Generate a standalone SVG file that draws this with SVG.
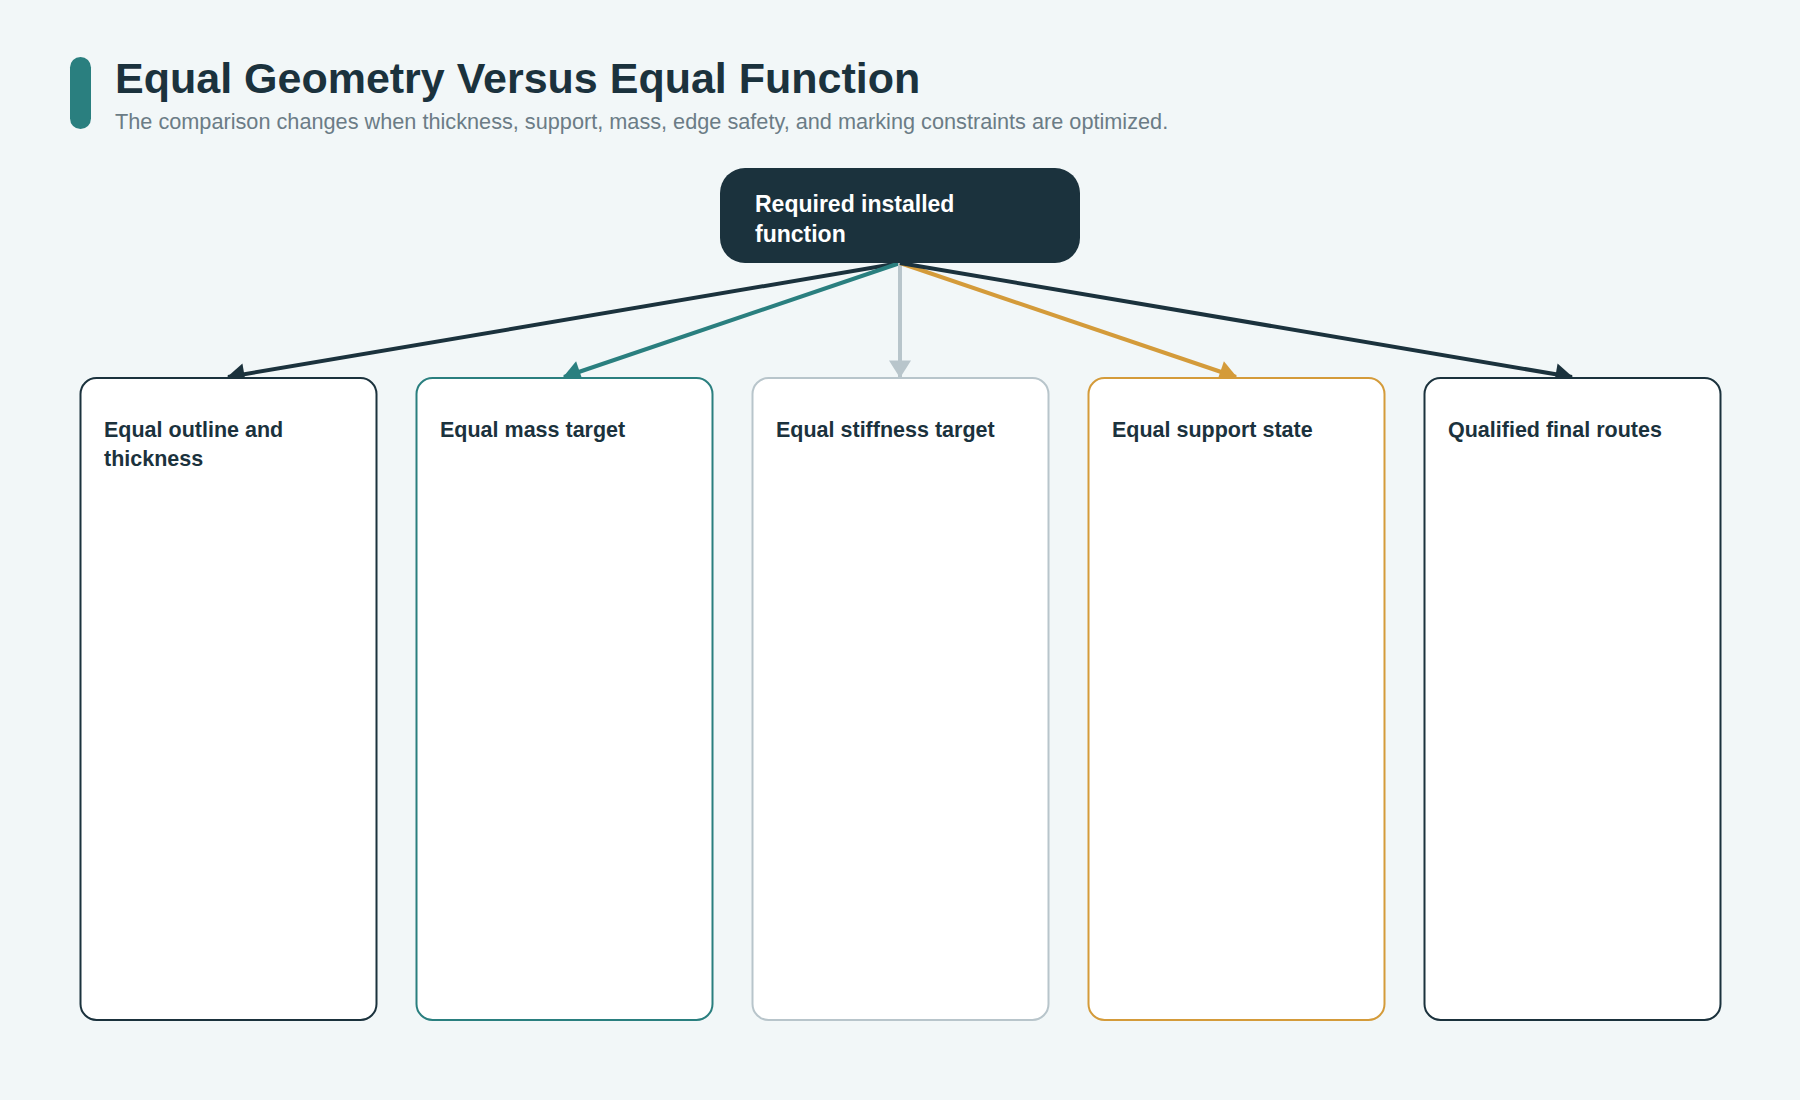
<svg xmlns="http://www.w3.org/2000/svg" width="1800" height="1100" viewBox="0 0 1800 1100">
<style>
.title{font-family:"Liberation Sans",Arial,sans-serif;font-weight:700;font-size:43px;fill:#1b323d}
.sub{font-family:"Liberation Sans",Arial,sans-serif;font-size:21.7px;fill:#6b7c86}
.ntext{font-family:"Liberation Sans",Arial,sans-serif;font-weight:700;font-size:23px;fill:#ffffff}
.ctext{font-family:"Liberation Sans",Arial,sans-serif;font-weight:700;font-size:21.5px;fill:#1b323d}
.card{fill:#ffffff;stroke-width:2}
.edge{fill:none;stroke-width:4}
</style>
<defs>
<marker id="aDark" markerUnits="userSpaceOnUse" markerWidth="22" markerHeight="22" viewBox="0 0 16 20" refX="15" refY="10" orient="auto"><path d="M0,0 L16,10 L0,20 z" fill="#1b323d"/></marker>
<marker id="aTeal" markerUnits="userSpaceOnUse" markerWidth="22" markerHeight="22" viewBox="0 0 16 20" refX="15" refY="10" orient="auto"><path d="M0,0 L16,10 L0,20 z" fill="#2a7f7f"/></marker>
<marker id="aGray" markerUnits="userSpaceOnUse" markerWidth="22" markerHeight="22" viewBox="0 0 16 20" refX="15" refY="10" orient="auto"><path d="M0,0 L16,10 L0,20 z" fill="#b8c5cb"/></marker>
<marker id="aGold" markerUnits="userSpaceOnUse" markerWidth="22" markerHeight="22" viewBox="0 0 16 20" refX="15" refY="10" orient="auto"><path d="M0,0 L16,10 L0,20 z" fill="#d49b3a"/></marker>
</defs>
<rect x="0" y="0" width="1800" height="1100" fill="#f2f7f8"/>
<g id="header">
<rect x="70" y="57" width="21" height="72" rx="10.5" fill="#2a7f7f"/>
<text class="title" x="115" y="93">Equal Geometry Versus Equal Function</text>
<text class="sub" x="115" y="129">The comparison changes when thickness, support, mass, edge safety, and marking constraints are optimized.</text>
</g>
<g id="connectors">
<line class="edge" x1="900" y1="263" x2="228" y2="377" stroke="#1b323d" marker-end="url(#aDark)"/>
<line class="edge" x1="900" y1="263" x2="564" y2="377" stroke="#2a7f7f" marker-end="url(#aTeal)"/>
<line class="edge" x1="900" y1="263" x2="900" y2="377" stroke="#b8c5cb" marker-end="url(#aGray)"/>
<line class="edge" x1="900" y1="263" x2="1236" y2="377" stroke="#d49b3a" marker-end="url(#aGold)"/>
<line class="edge" x1="900" y1="263" x2="1572" y2="377" stroke="#1b323d" marker-end="url(#aDark)"/>
</g>
<g id="node-root">
<rect x="720" y="168" width="360" height="95" rx="25" fill="#1b323d"/>
<text class="ntext" x="755" y="212">Required installed</text>
<text class="ntext" x="755" y="242">function</text>
</g>
<g id="node-outline">
<rect class="card" x="80.5" y="378" width="296" height="642" rx="16" stroke="#1b323d"/>
<text class="ctext" x="104" y="437">Equal outline and</text>
<text class="ctext" x="104" y="466">thickness</text>
</g>
<g id="node-mass">
<rect class="card" x="416.5" y="378" width="296" height="642" rx="16" stroke="#2a7f7f"/>
<text class="ctext" x="440" y="437">Equal mass target</text>
</g>
<g id="node-stiffness">
<rect class="card" x="752.5" y="378" width="296" height="642" rx="16" stroke="#b8c5cb"/>
<text class="ctext" x="776" y="437">Equal stiffness target</text>
</g>
<g id="node-support">
<rect class="card" x="1088.5" y="378" width="296" height="642" rx="16" stroke="#d49b3a"/>
<text class="ctext" x="1112" y="437">Equal support state</text>
</g>
<g id="node-routes">
<rect class="card" x="1424.5" y="378" width="296" height="642" rx="16" stroke="#1b323d"/>
<text class="ctext" x="1448" y="437">Qualified final routes</text>
</g>
</svg>
